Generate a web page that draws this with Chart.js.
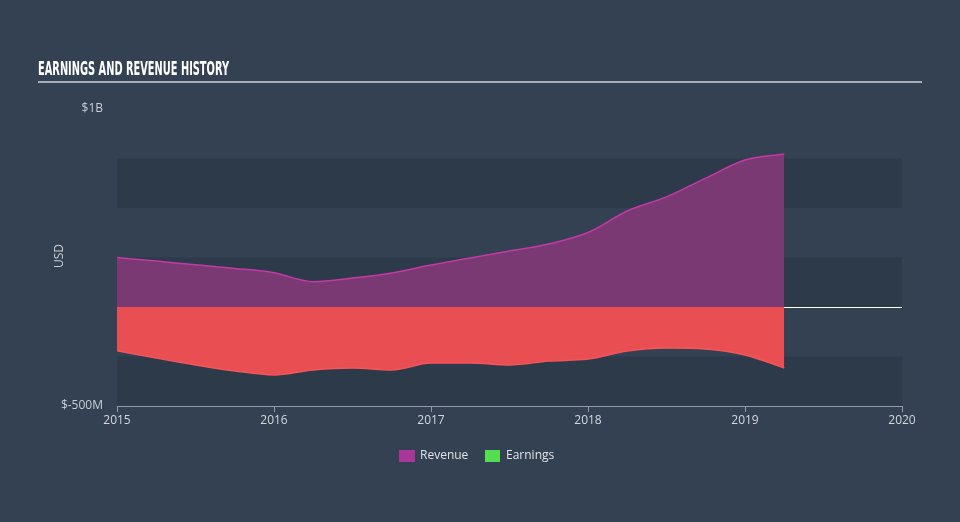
<!DOCTYPE html>
<html><head><meta charset="utf-8">
<script src="https://cdn.jsdelivr.net/npm/chart.js@4"></script>
<style>html,body{margin:0;padding:0;background:#334152;}#wrap{width:960px;height:522px;position:relative;}</style>
</head><body><div id="wrap"><canvas id="c" width="960" height="522"></canvas></div>
<script>
const years = [2015.0,2015.25,2015.5,2015.75,2016.0,2016.25,2016.5,2016.75,2017.0,2017.25,2017.5,2017.75,2018.0,2018.25,2018.5,2018.75,2019.0,2019.25];
const revenue = [250,232,213,195,173,128,146,172,212,247,283,318,376,485,556,651,742,773];
const earnings = [-221,-258,-293,-323,-343,-318,-308,-318,-283,-283,-293,-273,-263,-222,-207,-212,-242,-308];
const xTicks = [2015,2016,2017,2018,2019,2020];
const yLabels = {1000:'$1B', '-500':'$-500M'};
const bands = [[750,500],[250,0],[-250,-500]];
const title = 'EARNINGS AND REVENUE HISTORY';

const decor = {
  id:'decor',
  beforeDatasetsDraw(chart){
    const {ctx, chartArea:a, scales:{y}} = chart;
    ctx.save();
    ctx.fillStyle = 'rgba(38,50,64,0.42)';
    bands.forEach(([t,b])=>{
      const y1=y.getPixelForValue(t), y2=y.getPixelForValue(b);
      ctx.fillRect(a.left, y1, a.right-a.left, y2-y1);
    });
    const z = Math.round(y.getPixelForValue(0))+0.5;
    ctx.strokeStyle='#ffffff'; ctx.lineWidth=1;
    ctx.beginPath(); ctx.moveTo(a.left,z); ctx.lineTo(a.right,z); ctx.stroke();
    ctx.restore();
  },
  afterDraw(chart){
    const {ctx} = chart;
    ctx.save();
    ctx.fillStyle='#ffffff';
    ctx.font='bold 19px "Liberation Sans Narrow", "DejaVu Sans Condensed", sans-serif';
    ctx.textBaseline='alphabetic';
    ctx.fillText(title, 38, 75, 191);
    ctx.strokeStyle='#a9afb8'; ctx.lineWidth=2;
    ctx.beginPath(); ctx.moveTo(38,82); ctx.lineTo(922,82); ctx.stroke();
    // USD
    ctx.translate(60,256); ctx.rotate(-Math.PI/2);
    ctx.fillStyle='#c9ced6'; ctx.font='12px "Open Sans", sans-serif';
    ctx.textAlign='center'; ctx.textBaseline='middle';
    ctx.fillText('USD',0,0);
    ctx.restore();
    // legend
    ctx.save();
    ctx.font='12px "Open Sans", sans-serif'; ctx.textBaseline='middle';
    ctx.fillStyle='#a8369a'; ctx.fillRect(399,450,16,12);
    ctx.fillStyle='#dfe2e6'; ctx.fillText('Revenue',420,456);
    ctx.fillStyle='#52e052'; ctx.fillRect(485,450,15,12);
    ctx.fillStyle='#dfe2e6'; ctx.fillText('Earnings',506,456);
    ctx.restore();
  }
};

new Chart(document.getElementById('c'), {
  type:'line',
  data:{datasets:[
    {label:'Revenue', data: years.map((x,i)=>({x, y:revenue[i]})), borderColor:'#c23aa6', borderWidth:1.5, backgroundColor:'#7b3974', fill:'origin', pointRadius:0, cubicInterpolationMode:'monotone'},
    {label:'Earnings', data: years.map((x,i)=>({x, y:earnings[i]})), borderColor:'#f5555a', borderWidth:1.5, backgroundColor:'#e94f52', fill:'origin', pointRadius:0, cubicInterpolationMode:'monotone'}
  ]},
  options:{
    responsive:false, animation:false,
    layout:{padding:{left:0, top:109, right:58, bottom:0}},
    plugins:{legend:{display:false}, tooltip:{enabled:false}},
    scales:{
      x:{type:'linear', min:2015, max:2020,
        afterBuildTicks(s){ s.ticks = xTicks.map(v=>({value:v})); },
        afterFit(s){ s.height = 116; },
        ticks:{callback:v=>String(v), color:'#d3d7dd', font:{size:12, family:'"Open Sans", sans-serif'}, padding:1, maxRotation:0, autoSkip:false},
        grid:{display:true, drawOnChartArea:false, drawTicks:true, tickLength:6, color:'#8f9bab'},
        border:{display:true, color:'#8f9bab'}
      },
      y:{min:-500, max:1000,
        afterBuildTicks(s){ s.ticks = [-500,-250,0,250,500,750,1000].map(v=>({value:v})); },
        afterFit(s){ s.width = 117; },
        ticks:{callback:v=> yLabels[v] || '', color:'#c9ced6', font:{size:12, family:'"Open Sans", sans-serif'}, padding:14, autoSkip:false},
        grid:{display:false, drawTicks:false},
        border:{display:false}
      }
    }
  },
  plugins:[decor]
});
</script></body></html>
